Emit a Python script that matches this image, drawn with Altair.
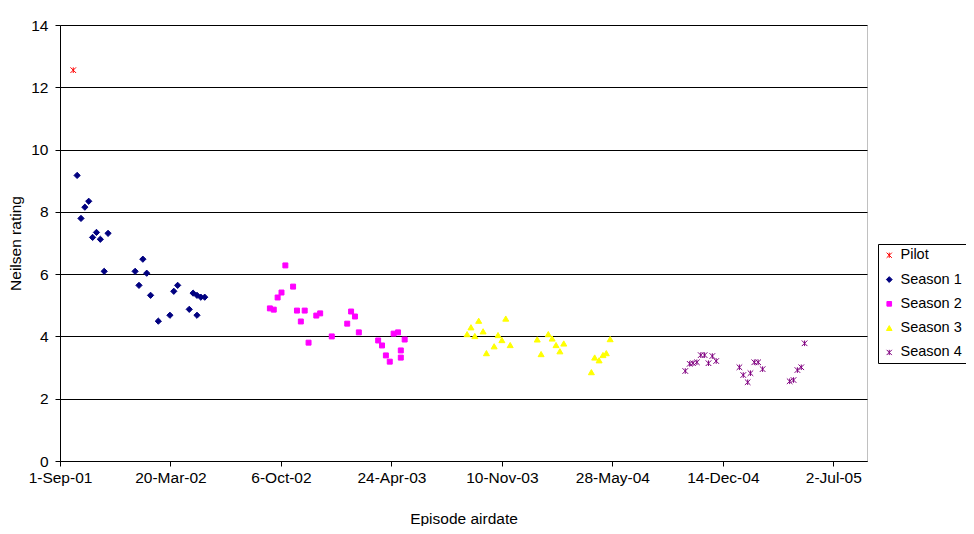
import altair as alt
import pandas as pd

series_names = ["Pilot", "Season 1", "Season 2", "Season 3", "Season 4"]
series_colors = ["#FF0000", "#000080", "#FF00FF", "#FFFF00", "#800080"]

pilot_dates = ["2001-09-25"]
pilot_ratings = [12.55]

s1_dates = ["2001-10-02", "2001-10-09", "2001-10-16", "2001-10-23", "2001-10-30",
            "2001-11-06", "2001-11-13", "2001-11-20", "2001-11-27", "2002-01-15",
            "2002-01-22", "2002-01-29", "2002-02-05", "2002-02-12", "2002-02-26",
            "2002-03-19", "2002-03-26", "2002-04-02", "2002-04-23", "2002-04-30",
            "2002-05-07", "2002-05-07", "2002-05-14", "2002-05-21"]
s1_ratings = [9.17, 7.79, 8.15, 8.34, 7.18, 7.34, 7.12, 6.09, 7.31, 6.09,
              5.64, 6.48, 6.03, 5.32, 4.49, 4.68, 5.45, 5.64, 4.87, 5.39,
              4.68, 5.32, 5.26, 5.26]

s2_dates = ["2002-09-16", "2002-09-23", "2002-09-30", "2002-10-07", "2002-10-14",
            "2002-10-28", "2002-11-04", "2002-11-11", "2002-11-18", "2002-11-25",
            "2002-12-09", "2002-12-16", "2003-01-06", "2003-02-03", "2003-02-10",
            "2003-02-17", "2003-02-24", "2003-03-31", "2003-04-07", "2003-04-14",
            "2003-04-21", "2003-04-28", "2003-05-06", "2003-05-11", "2003-05-11",
            "2003-05-18"]
s2_ratings = [4.90, 4.86, 5.25, 5.41, 6.28, 5.60, 4.83, 4.48, 4.83, 3.80,
              4.67, 4.74, 4.00, 4.41, 4.80, 4.64, 4.13, 3.87, 3.71, 3.39,
              3.19, 4.09, 4.13, 3.55, 3.32, 3.90]

s3_dates = ["2003-09-08", "2003-09-15", "2003-09-22", "2003-09-29", "2003-10-07",
            "2003-10-13", "2003-10-27", "2003-11-03", "2003-11-10", "2003-11-17",
            "2003-11-25", "2004-01-13", "2004-01-20", "2004-02-02", "2004-02-09",
            "2004-02-16", "2004-02-23", "2004-03-01", "2004-04-20", "2004-04-26",
            "2004-05-04", "2004-05-11", "2004-05-17", "2004-05-24"]
s3_ratings = [4.07, 4.29, 4.01, 4.50, 4.16, 3.46, 3.68, 4.04, 3.88, 4.57,
              3.72, 3.90, 3.43, 4.07, 3.93, 3.72, 3.52, 3.77, 2.85, 3.32,
              3.23, 3.40, 3.46, 3.91]

s4_dates = ["2004-10-07", "2004-10-15", "2004-10-21", "2004-10-28", "2004-11-04",
            "2004-11-11", "2004-11-18", "2004-11-25", "2004-12-02", "2005-01-13",
            "2005-01-20", "2005-01-28", "2005-02-02", "2005-02-09", "2005-02-16",
            "2005-02-24", "2005-04-14", "2005-04-21", "2005-04-28", "2005-05-05",
            "2005-05-11"]
s4_ratings = [2.89, 3.12, 3.14, 3.17, 3.40, 3.40, 3.14, 3.37, 3.21, 3.01,
              2.76, 2.53, 2.82, 3.17, 3.17, 2.95, 2.56, 2.60, 2.92, 3.01,
              3.78]

x_tick_dates = [(2001, 9, 1), (2002, 3, 20), (2002, 10, 6), (2003, 4, 24),
                (2003, 11, 10), (2004, 5, 28), (2004, 12, 14), (2005, 7, 2)]
x_domain = [(2001, 9, 1), (2005, 9, 1)]
y_ticks = [0, 2, 4, 6, 8, 10, 12, 14]

rows = []
for name, dates, vals in [("Pilot", pilot_dates, pilot_ratings),
                          ("Season 1", s1_dates, s1_ratings),
                          ("Season 2", s2_dates, s2_ratings),
                          ("Season 3", s3_dates, s3_ratings),
                          ("Season 4", s4_dates, s4_ratings)]:
    for d, v in zip(dates, vals):
        rows.append({"date": d, "rating": v, "series": name})
df = pd.DataFrame(rows)

# marker outlines (unit square -1..1 maps to sqrt(size) px)
star = "M-0.7,-0.7L0.7,0.7M-0.7,0.7L0.7,-0.7M0,-0.7L0,0.7"
diamond = "M0,-0.78L0.78,0L0,0.78L-0.78,0Z"
square = "M-0.62,-0.62L0.62,-0.62L0.62,0.62L-0.62,0.62Z"
triangle = "M0,-0.68L0.75,0.62L-0.75,0.62Z"
shapes = [star, diamond, square, triangle, star]

def dt(t):
    return alt.DateTime(year=t[0], month=t[1], date=t[2], utc=True)

FONT = "Liberation Sans"

chart = alt.Chart(df).mark_point(filled=True, strokeWidth=1, opacity=1, size=64).encode(
    x=alt.X("date:T",
            scale=alt.Scale(type="utc", domain=[dt(t) for t in x_domain], nice=False),
            axis=alt.Axis(values=[dt(t) for t in x_tick_dates], format="%-d-%b-%y",
                          title="Episode airdate", grid=False, tickSize=5,
                          labelPadding=4, titlePadding=26, labelFlush=False,
                          labelOverlap=False)),
    y=alt.Y("rating:Q", scale=alt.Scale(domain=[0, 14], nice=False),
            axis=alt.Axis(values=y_ticks, title="Neilsen rating", grid=True,
                          tickSize=5, labelPadding=7, titlePadding=7)),
    fill=alt.Fill("series:N", scale=alt.Scale(domain=series_names, range=series_colors),
                  title=None),
    stroke=alt.Stroke("series:N", scale=alt.Scale(domain=series_names, range=series_colors),
                      title=None),
    shape=alt.Shape("series:N", scale=alt.Scale(domain=series_names, range=shapes),
                    title=None),
).properties(
    width=807, height=436,
    padding={"left": 52, "top": 17, "right": 99, "bottom": 65},
    autosize=alt.AutoSizeParams(type="none"),
    background="white",
).configure_view(
    stroke="#C0C0C0", strokeWidth=1
).configure_axis(
    domainColor="black", tickColor="black", gridColor="black", gridOpacity=1,
    labelColor="black", titleColor="black", labelFont=FONT, titleFont=FONT,
    labelFontSize=15.5, titleFontSize=15.5, titleFontWeight="normal",
    domainWidth=1, gridWidth=1, tickWidth=1,
).configure_legend(
    orient="none", legendX=818, legendY=219,
    strokeColor="black", fillColor="white", padding=4, rowPadding=9.3,
    labelFont=FONT, labelFontSize=14.5, labelColor="black",
    symbolSize=56, symbolStrokeWidth=1, labelOffset=4, cornerRadius=0,
    symbolOpacity=1,
)

chart.save("out.html", embed_options={"renderer": "svg", "actions": False})
